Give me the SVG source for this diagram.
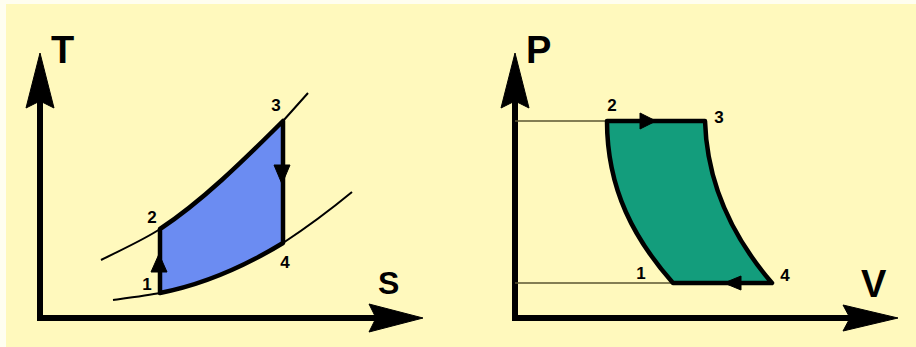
<svg xmlns="http://www.w3.org/2000/svg" width="916" height="347" viewBox="0 0 916 347">
<style>
.lbl{font-family:"Liberation Sans",Arial,sans-serif;font-weight:bold;fill:#000}
.ax{font-size:38px}
.num{font-size:17px;text-anchor:middle}
.axis{stroke:#000;stroke-width:6;fill:none;stroke-linecap:butt}
.thin{stroke:#000;stroke-width:2;fill:none}
.guide{stroke:#5a5530;stroke-width:1.5;fill:none}
.cyc{stroke:#000;stroke-width:4.5;stroke-linejoin:round}
.head{fill:#000;stroke:#000;stroke-width:1;stroke-linejoin:round}
</style>
<rect x="0" y="0" width="916" height="347" fill="#fffef0"/>
<rect x="6" y="4" width="910" height="343" fill="#fff9bd"/>
<g id="ts-diagram">
  <g id="ts-axes">
    <path class="axis" d="M40,100 V318 H376"/>
    <path class="head" d="M40,53 L54,108 L40,101 L26,108 Z"/>
    <path class="head" d="M423,318 L369,304 L376,318 L369,332 Z"/>
    <text class="lbl ax" x="51" y="63">T</text>
    <text class="lbl ax" x="378" y="294" style="font-size:32px">S</text>
  </g>
  <g id="ts-isobars">
    <path class="thin" d="M101,260 C125,248 145,239 160,229 C201,202 242,162 283,121 L308,93"/>
    <path class="thin" d="M113,300 C135,297 150,295 160,293 C201,285 242,268 283,243 Q318,220 352,192"/>
  </g>
  <g id="ts-cycle">
    <path class="cyc" fill="#6b8cf2" d="M160,293 L160,229 C201,202 242,162 283,121 L283,243 C242,268 201,285 160,293 Z"/>
    <path class="head" d="M159,254 L167,272 L151,272 Z"/>
    <path class="head" d="M282,184 L290,165 L274,165 Z"/>
  </g>
  <g id="ts-p1"><text class="lbl num" x="147" y="290">1</text></g>
  <g id="ts-p2"><text class="lbl num" x="152" y="223">2</text></g>
  <g id="ts-p3"><text class="lbl num" x="276" y="111">3</text></g>
  <g id="ts-p4"><text class="lbl num" x="285" y="268">4</text></g>
</g>
<g id="pv-diagram">
  <g id="pv-axes">
    <path class="axis" d="M515,100 V318 H850"/>
    <path class="head" d="M515,53 L529,108 L515,101 L501,108 Z"/>
    <path class="head" d="M898,318 L843,305 L850,318 L843,331 Z"/>
    <text class="lbl ax" x="526" y="63">P</text>
    <text class="lbl ax" x="861" y="297">V</text>
  </g>
  <g id="pv-guides">
    <path class="guide" d="M515,121 H607"/>
    <path class="guide" d="M515,283 H673"/>
  </g>
  <g id="pv-cycle">
    <path class="cyc" fill="#139d7c" d="M607,121 L705,121 C707,185 735,240 772,283 L673,283 C635,240 607,190 607,121 Z"/>
    <path class="head" d="M656,121 L640,113 L640,129 Z"/>
    <path class="head" d="M724,283 L741,276 L741,290 Z"/>
  </g>
  <g id="pv-p1"><text class="lbl num" x="641" y="279">1</text></g>
  <g id="pv-p2"><text class="lbl num" x="612" y="111">2</text></g>
  <g id="pv-p3"><text class="lbl num" x="719" y="123">3</text></g>
  <g id="pv-p4"><text class="lbl num" x="785" y="281">4</text></g>
</g>
</svg>
